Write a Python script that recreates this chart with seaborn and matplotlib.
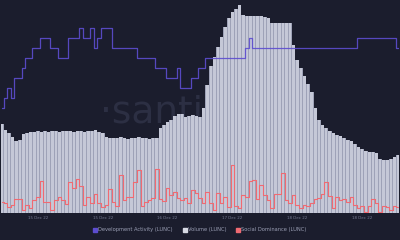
import matplotlib
matplotlib.use("Agg")
import matplotlib.pyplot as plt
import seaborn as sns
import pandas as pd
from matplotlib.lines import Line2D

# ---- data (hourly points) ----
dev_activity = [10, 11, 12, 11, 13, 13, 14, 15, 15, 16, 16, 17, 17, 17, 16, 16, 15, 15, 15, 17,
                17, 17, 18, 17, 17, 18, 16, 17, 18, 18, 18, 16, 16, 16, 16, 16, 16, 16, 15, 15,
                15, 15, 15, 14, 14, 14, 13, 13, 13, 14, 12, 12, 12, 13, 13, 14, 14, 15, 15, 15,
                15, 15, 15, 15, 15, 15, 15, 15, 16, 17, 16, 16, 16, 16, 16, 16, 16, 16, 16, 16,
                16, 16, 16, 16, 16, 16, 16, 16, 16, 16, 16, 16, 16, 16, 16, 16, 16, 16, 16, 17,
                17, 17, 17, 17, 17, 17, 17, 17, 17, 17, 16]

volume = [89, 83, 80, 76, 72, 73, 79, 80, 81, 81, 82, 81, 82, 81, 82, 82, 81, 82, 82, 82,
          81, 82, 82, 81, 82, 82, 83, 81, 80, 76, 75, 75, 75, 76, 75, 74, 75, 75, 76, 75,
          75, 74, 75, 75, 85, 88, 91, 93, 97, 99, 99, 96, 97, 98, 97, 96, 105, 128, 147, 156,
          166, 176, 186, 195, 201, 204, 208, 198, 197, 197, 197, 197, 197, 196, 195, 190, 190, 190, 190, 190,
          190, 168, 153, 145, 137, 129, 121, 105, 93, 88, 85, 82, 80, 78, 77, 75, 73, 72, 69, 66,
          64, 62, 61, 61, 60, 54, 53, 53, 54, 56, 58]

social_dominance = [1.1, 1.0, 0.6, 0.8, 1.4, 1.4, 0.3, 0.8, 0.5, 1.3, 1.6, 3.2, 1.1, 1.1, 0.3, 1.3, 1.6, 1.3, 0.9, 3.1,
                    2.5, 3.4, 2.7, 0.8, 1.6, 1.0, 1.9, 1.0, 0.6, 0.8, 2.4, 1.1, 0.7, 3.8, 1.3, 1.6, 1.6, 3.1, 4.3, 0.7,
                    1.1, 1.3, 1.5, 4.4, 1.4, 1.2, 2.5, 1.8, 2.1, 1.5, 1.3, 1.5, 1.0, 2.3, 2.0, 1.5, 1.0, 2.1, 1.0, 0.3,
                    2.0, 1.0, 1.6, 0.6, 4.8, 0.7, 0.5, 1.8, 1.6, 3.2, 3.3, 1.4, 2.8, 1.8, 1.3, 0.5, 1.9, 1.9, 4.0, 1.3,
                    1.0, 1.8, 0.8, 0.5, 0.8, 0.7, 1.0, 1.4, 1.5, 1.9, 3.1, 1.7, 0.5, 1.6, 1.3, 1.4, 1.1, 1.6, 0.8, 0.5,
                    0.7, 0.1, 0.7, 1.4, 1.0, 0.1, 0.7, 0.6, 0.3, 0.7, 0.6]

tick_hours = [10, 28, 46, 64, 82, 100]
tick_labels = ["15 Dec 22", "15 Dec 22", "16 Dec 22", "17 Dec 22", "18 Dec 22", "18 Dec 22"]

series_names = ["Development Activity (LUNC)", "Volume (LUNC)", "Social Dominance (LUNC)"]

hours = list(range(len(volume)))
df = pd.DataFrame({"hour": hours, "volume": volume,
                   "dev": dev_activity, "social": social_dominance})

BG = "#1b1d2d"
PURPLE = "#5d4dd0"
GRAY = "#c5c8d7"
RED = "#f06a72"

sns.set_theme(style="dark")
plt.rcParams["font.family"] = ["DejaVu Sans"]

fig = plt.figure(figsize=(4.0, 2.4), dpi=100, facecolor=BG)
ax = fig.add_axes([0, 0.1125, 1, 0.8875])
ax.set_facecolor(BG)

# watermark
ax.text(0.5, 0.47, "·santiment", transform=ax.transAxes, ha="center", va="center",
        fontsize=27, color="#2c2f43", zorder=0)

# volume: darker fill behind + lighter bars (striped look)
ax.fill_between(hours, volume, step="mid", color="#9ea2b7", lw=0, zorder=1)
sns.barplot(data=df, x="hour", y="volume", color=GRAY, width=0.72,
            saturation=1, ax=ax, zorder=2, native_scale=True, linewidth=0,
            edgecolor="none")

ax2 = ax.twinx()
sns.lineplot(data=df, x="hour", y="social", color=RED, lw=0.8,
             drawstyle="steps-mid", ax=ax2, zorder=3)

ax3 = ax.twinx()
sns.lineplot(data=df, x="hour", y="dev", color=PURPLE, lw=0.9, alpha=0.9,
             drawstyle="steps-mid", ax=ax3, zorder=4)

for a in (ax, ax2, ax3):
    a.set_ylabel("")
    a.set_xlabel("")
    a.set_yticks([])
    for s in a.spines.values():
        s.set_visible(False)
    a.grid(False)

ax.set_ylim(0, 213)
ax2.set_ylim(0, 21.3)
ax3.set_ylim(-0.5, 20.8)
ax.set_xlim(-0.5, len(volume) - 0.5)

ax.set_xticks(tick_hours)
ax.set_xticklabels(tick_labels, fontsize=2.9, color="#767b93")
ax.tick_params(axis="x", length=0, pad=2.2)
for a in (ax2, ax3):
    a.tick_params(axis="x", labelbottom=False, length=0)

handles = [Line2D([], [], marker="s", linestyle="", markersize=2.7, color=c)
           for c in (PURPLE, "#d8dae4", RED)]
leg = fig.legend(handles, series_names, loc="center", bbox_to_anchor=(0.5, 0.042),
                 ncol=3, frameon=False, fontsize=3.7, handletextpad=0.2,
                 columnspacing=2.0, handlelength=0.7)
for t in leg.get_texts():
    t.set_color("#9a9eb4")

fig.savefig("out.png", dpi=100, facecolor=BG)
